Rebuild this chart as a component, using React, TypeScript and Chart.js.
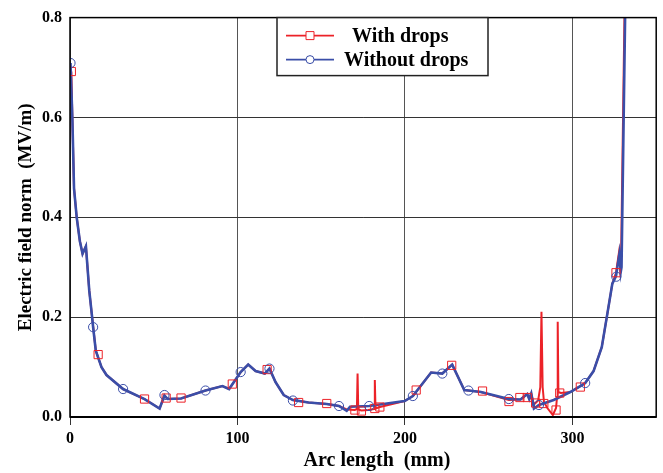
import React, { useEffect, useRef } from 'react';
import { Chart, registerables } from 'chart.js';

Chart.register(...registerables);

const FONT = '"Liberation Serif", "Times New Roman", serif';

// Axis tick values
const xTickValues = [0, 100, 200, 300];
const yTickValues = [0, 0.2, 0.4, 0.6, 0.8];

// Series labels
const seriesNames = ['With drops', 'Without drops'];

// "Without drops" curve (arc length mm, field MV/m)
const withoutX = [0.3, 1.4, 2.4, 4.0, 5.9, 7.5, 9.5, 11.5, 13.2, 13.8, 15.4, 18.8, 21.8, 31.7, 44.5, 53.5, 56.4, 58.3, 66.3, 80.9, 91, 95, 101.9, 106.4, 110.8, 116.3, 119.1, 122.7, 127.6, 133.1, 142.4, 153.3, 160.6, 165.2, 167.2, 178.6, 199.8, 204.7, 215.6, 222.3, 228.2, 235.4, 237.9, 245.3, 262, 269, 273, 274.2, 275.4, 277, 280, 288.8, 298.7, 304.7, 307.6, 312.6, 317.5, 320.5, 323.8, 326, 328, 328.8, 329.3, 331.6];
const withoutY = [0.709, 0.6, 0.458, 0.4, 0.352, 0.327, 0.342, 0.253, 0.2, 0.18, 0.133, 0.1, 0.084, 0.056, 0.036, 0.017, 0.043, 0.036, 0.037, 0.053, 0.062, 0.056, 0.09, 0.105, 0.092, 0.087, 0.097, 0.07, 0.044, 0.034, 0.029, 0.026, 0.022, 0.0125, 0.0205, 0.022, 0.032, 0.042, 0.089, 0.087, 0.105, 0.054, 0.053, 0.05, 0.036, 0.035, 0.046, 0.036, 0.047, 0.017, 0.024, 0.034, 0.05, 0.062, 0.068, 0.092, 0.14, 0.2, 0.267, 0.282, 0.326, 0.29, 0.3, 0.84];

// "With drops" curve
const withX = [0.8, 1.4, 2.4, 4.0, 5.9, 7.5, 9.5, 11.5, 13.2, 15.4, 18.8, 21.8, 31.7, 44.5, 53.5, 56.4, 58.3, 66.3, 80.9, 91, 95, 101.9, 106.4, 110.8, 116.3, 119.1, 122.7, 127.6, 133.1, 142.4, 153.3, 160.6, 165.2, 170, 171.3, 171.7, 172.1, 174, 178, 181.6, 182, 182.4, 185, 199.8, 204.7, 215.6, 222.3, 228.2, 235.4, 237.9, 245.3, 262, 269, 273, 274.2, 275.4, 277, 279.5, 280.8, 281.5, 282.2, 283, 285, 288.3, 290.2, 290.8, 291.2, 291.6, 293, 298.7, 304.7, 307.6, 312.6, 317.5, 320.5, 323.8, 326, 327.8, 328.5, 329.0, 331.2];
const withY = [0.692, 0.6, 0.458, 0.4, 0.352, 0.327, 0.342, 0.253, 0.2, 0.133, 0.1, 0.084, 0.056, 0.036, 0.017, 0.043, 0.036, 0.037, 0.053, 0.062, 0.056, 0.09, 0.105, 0.092, 0.087, 0.097, 0.07, 0.044, 0.034, 0.029, 0.026, 0.022, 0.015, 0.014, 0.016, 0.087, 0.015, 0.013, 0.014, 0.016, 0.074, 0.017, 0.02, 0.032, 0.042, 0.089, 0.087, 0.105, 0.054, 0.053, 0.05, 0.034, 0.035, 0.046, 0.036, 0.047, 0.025, 0.033, 0.06, 0.211, 0.06, 0.03, 0.018, 0.004, 0.018, 0.04, 0.191, 0.05, 0.048, 0.05, 0.062, 0.068, 0.092, 0.14, 0.2, 0.267, 0.289, 0.33, 0.3, 0.31, 0.84];

// Marker samples
const withMarkX = [0.8, 16.8, 44.5, 57.4, 66.3, 96.9, 117.7, 136.5, 153.3, 170.1, 174, 182, 185, 206.7, 227.9, 246.3, 262.1, 268.6, 273, 278, 282.9, 290.2, 292.4, 304.7, 326];
const withMarkY = [0.692, 0.125, 0.036, 0.038, 0.038, 0.066, 0.095, 0.029, 0.027, 0.014, 0.012, 0.017, 0.02, 0.054, 0.1035, 0.052, 0.031, 0.039, 0.039, 0.028, 0.027, 0.014, 0.048, 0.06, 0.289];
const withoutMarkX = [0.3, 13.8, 31.7, 56.4, 80.9, 101.9, 119.1, 133.1, 160.6, 178.6, 204.7, 222.3, 237.9, 262, 280, 307.6, 326.2];
const withoutMarkY = [0.709, 0.18, 0.056, 0.044, 0.053, 0.09, 0.097, 0.033, 0.022, 0.022, 0.042, 0.087, 0.053, 0.036, 0.024, 0.068, 0.281];

const RED = 'rgb(236, 34, 40)';
const BLUE = 'rgb(58, 78, 168)';

const pts = (xs: number[], ys: number[]) => xs.map((x, i) => ({ x, y: ys[i] }));

export default function App() {
  const ref = useRef<HTMLCanvasElement>(null);

  useEffect(() => {
    if (!ref.current) return;

    const decor = {
      id: 'decor',
      afterDraw(chart: any) {
        const { ctx, chartArea } = chart;
        const { left, top, right, bottom } = chartArea;
        ctx.save();
        // frame
        ctx.strokeStyle = '#000';
        ctx.lineWidth = 1.5;
        ctx.strokeRect(left, top, right - left, bottom - top);
        ctx.lineWidth = 2.2;
        ctx.beginPath();
        ctx.moveTo(left, bottom);
        ctx.lineTo(right, bottom);
        ctx.stroke();

        // legend
        const bx = 277, by = top, bw = 211, bh = 58;
        ctx.fillStyle = '#fff';
        ctx.fillRect(bx, by, bw, bh);
        ctx.strokeStyle = '#222';
        ctx.lineWidth = 1.5;
        ctx.strokeRect(bx, by, bw, bh);
        const rows = [
          { y: by + 18, color: RED, shape: 'rect', text: seriesNames[0], tx: 352 },
          { y: by + 42, color: BLUE, shape: 'circle', text: seriesNames[1], tx: 344 },
        ];
        rows.forEach((r) => {
          ctx.strokeStyle = r.color;
          ctx.lineWidth = 1.6;
          ctx.beginPath();
          ctx.moveTo(286, r.y);
          ctx.lineTo(334, r.y);
          ctx.stroke();
          ctx.lineWidth = 1;
          ctx.fillStyle = '#fff';
          ctx.beginPath();
          if (r.shape === 'rect') {
            ctx.rect(306, r.y - 4, 8, 8);
          } else {
            ctx.arc(310, r.y, 4, 0, Math.PI * 2);
          }
          ctx.fill();
          ctx.stroke();
          ctx.fillStyle = '#000';
          ctx.font = `bold 20px ${FONT}`;
          ctx.textAlign = 'left';
          ctx.textBaseline = 'middle';
          ctx.fillText(r.text, r.tx, r.y + 1);
        });

        // axis titles
        ctx.fillStyle = '#000';
        ctx.font = `bold 20px ${FONT}`;
        ctx.textAlign = 'center';
        ctx.textBaseline = 'alphabetic';
        ctx.fillText('Arc length  (mm)', 377, 466);
        ctx.font = `bold 19px ${FONT}`;
        ctx.translate(31, (top + bottom) / 2);
        ctx.rotate(-Math.PI / 2);
        ctx.fillText('Electric field norm  (MV/m)', 0, 0);
        ctx.restore();
      },
    };

    const chart = new Chart(ref.current, {
      type: 'scatter',
      data: {
        datasets: [
          {
            label: seriesNames[1] + ' markers',
            data: pts(withoutMarkX, withoutMarkY),
            showLine: false,
            pointStyle: 'circle',
            pointRadius: 4.6,
            pointBorderWidth: 1,
            pointBorderColor: BLUE,
            pointBackgroundColor: 'rgba(0,0,0,0)',
          },
          {
            label: seriesNames[0] + ' markers',
            data: pts(withMarkX, withMarkY),
            showLine: false,
            pointStyle: 'rect',
            pointRadius: 5.8,
            pointBorderWidth: 1,
            pointBorderColor: RED,
            pointBackgroundColor: 'rgba(0,0,0,0)',
          },
          {
            label: seriesNames[1],
            data: pts(withoutX, withoutY),
            showLine: true,
            borderColor: BLUE,
            borderWidth: 2.6,
            pointRadius: 0,
            tension: 0,
          },
          {
            label: seriesNames[0],
            data: pts(withX, withY),
            showLine: true,
            borderColor: RED,
            borderWidth: 2,
            pointRadius: 0,
            tension: 0,
          },
        ],
      },
      options: {
        responsive: true,
        maintainAspectRatio: false,
        animation: false,
        layout: { padding: { left: 0, top: 15, right: 4, bottom: 0 } },
        plugins: {
          legend: { display: false },
          tooltip: { enabled: false },
        },
        scales: {
          x: {
            type: 'linear',
            min: 0,
            max: 350,
            afterBuildTicks: (scale: any) => {
              scale.ticks = xTickValues.map((v) => ({ value: v }));
            },
            afterFit: (scale: any) => {
              scale.height = 56;
            },
            grid: { color: '#555', lineWidth: 1, drawTicks: true, tickLength: 8, tickColor: '#333' },
            border: { display: false },
            ticks: {
              color: '#000',
              padding: 4,
              maxRotation: 0,
              font: { family: FONT, size: 16, weight: 'bold' },
              callback: (v: any) => String(v),
            },
          },
          y: {
            type: 'linear',
            min: 0,
            max: 0.8,
            afterBuildTicks: (scale: any) => {
              scale.ticks = yTickValues.map((v) => ({ value: v }));
            },
            afterFit: (scale: any) => {
              scale.width = 70;
            },
            grid: { color: '#333', lineWidth: 1, drawTicks: false },
            border: { display: false },
            ticks: {
              color: '#000',
              padding: 8,
              font: { family: FONT, size: 16, weight: 'bold' },
              callback: (v: any) => Number(v).toFixed(1),
            },
          },
        },
      },
      plugins: [decor],
    });

    return () => chart.destroy();
  }, []);

  return (
    <div style={{ position: 'absolute', left: 0, top: 0, width: 663, height: 473, background: '#fff' }}>
      <canvas ref={ref} />
    </div>
  );
}
